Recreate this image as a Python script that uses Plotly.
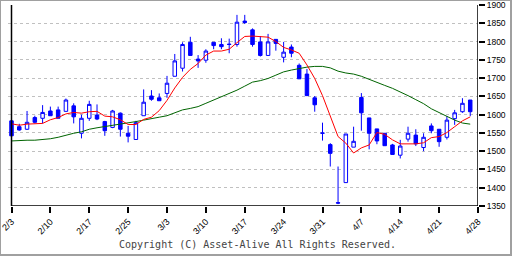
import plotly.graph_objects as go

# ---- data ----
tick_labels = ["2/3", "2/10", "2/17", "2/25", "3/3", "3/10", "3/17",
               "3/24", "3/31", "4/7", "4/14", "4/21", "4/28"]

opens = [1583, 1567, 1560, 1592, 1590, 1610, 1613, 1609, 1624, 1549,
         1590, 1599, 1581, 1565, 1604, 1549, 1532, 1597, 1651, 1646,
         1658, 1705, 1727, 1798, 1752, 1749, 1798, 1792, 1793, 1792,
         1856, 1832, 1799, 1762, 1806, 1757, 1785, 1735, 1711, 1646,
         1550, 1518, 1359, 1414, 1511, 1647, 1591, 1561, 1549, 1517,
         1489, 1533, 1544, 1510, 1569, 1560, 1538, 1589, 1608, 1640]
highs = [1585, 1575, 1610, 1597, 1626, 1622, 1622, 1644, 1631, 1600,
         1638, 1628, 1583, 1613, 1606, 1569, 1583, 1669, 1667, 1658,
         1706, 1766, 1798, 1813, 1763, 1779, 1798, 1809, 1808, 1873,
         1873, 1836, 1815, 1821, 1806, 1799, 1792, 1740, 1725, 1651,
         1578, 1522, 1458, 1547, 1567, 1659, 1591, 1561, 1549, 1520,
         1531, 1567, 1560, 1549, 1576, 1560, 1596, 1613, 1645, 1640]
lows = [1540, 1556, 1558, 1576, 1576, 1597, 1590, 1609, 1576, 1535,
        1583, 1585, 1542, 1563, 1540, 1524, 1532, 1597, 1638, 1638,
        1646, 1705, 1718, 1762, 1728, 1742, 1779, 1779, 1768, 1786,
        1848, 1786, 1759, 1762, 1775, 1743, 1757, 1698, 1652, 1608,
        1529, 1458, 1355, 1414, 1511, 1556, 1505, 1519, 1515, 1491,
        1480, 1526, 1514, 1500, 1549, 1512, 1532, 1572, 1605, 1596]
closes = [1542, 1558, 1579, 1579, 1606, 1597, 1590, 1640, 1594, 1590,
          1628, 1588, 1556, 1610, 1560, 1541, 1578, 1634, 1642, 1638,
          1686, 1747, 1792, 1762, 1747, 1774, 1789, 1786, 1792, 1853,
          1852, 1792, 1762, 1799, 1795, 1771, 1768, 1698, 1652, 1627,
          1549, 1494, 1358, 1547, 1527, 1605, 1549, 1528, 1515, 1491,
          1514, 1549, 1520, 1538, 1556, 1526, 1585, 1605, 1631, 1608]

ma_short = [1575, 1571, 1574, 1574, 1576, 1586, 1592, 1602, 1606, 1604,
            1608, 1609, 1596, 1594, 1586, 1573, 1573, 1587, 1593, 1611,
            1639, 1673, 1702, 1724, 1740, 1763, 1774, 1774, 1779, 1797,
            1814, 1815, 1813, 1812, 1800, 1784, 1777, 1768, 1736, 1699,
            1652, 1598, 1540, 1522, 1495, 1509, 1517, 1551, 1546, 1531,
            1520, 1520, 1520, 1523, 1537, 1540, 1551, 1567, 1583, 1594]
ma_long = [1528, 1530, 1530, 1530, 1531, 1534, 1538, 1544, 1549, 1553,
           1560, 1564, 1567, 1570, 1574, 1576, 1581, 1585, 1588, 1593,
           1597, 1606, 1613, 1617, 1622, 1631, 1640, 1649, 1656, 1667,
           1678, 1689, 1693, 1699, 1708, 1717, 1722, 1727, 1730, 1732,
           1732, 1728, 1719, 1714, 1711, 1705, 1696, 1689, 1680, 1672,
           1663, 1652, 1641, 1630, 1616, 1605, 1594, 1585, 1577, 1574]

y_ticks = list(range(1350, 1901, 50))

# ---- figure ----
n = len(closes)
xs = list(range(n))
tick_pos = list(range(0, 5 * len(tick_labels), 5))

W, H = 512, 256
ML, MR, MT, MB = 8, 34, 5, 50
PW, PH = W - ML - MR, H - MT - MB


def px(x):
    return (x - ML) / PW


def py(y):
    return (H - MB - y) / PH


fig = go.Figure()
fig.add_trace(go.Candlestick(
    x=xs, open=opens, high=highs, low=lows, close=closes,
    increasing=dict(line=dict(color="#0000ff", width=1), fillcolor="#ffffff"),
    decreasing=dict(line=dict(color="#0000ff", width=1), fillcolor="#0000ff"),
    whiskerwidth=0, showlegend=False, hoverinfo="skip",
))
fig.add_trace(go.Scatter(x=xs, y=ma_long, mode="lines",
                         line=dict(color="#006400", width=1), showlegend=False))
fig.add_trace(go.Scatter(x=xs, y=ma_short, mode="lines",
                         line=dict(color="#ff0000", width=1), showlegend=False))

shapes = [
    # axes lines
    dict(type="line", xref="x", yref="y", x0=0, x1=0, y0=y_ticks[0], y1=y_ticks[-1],
         line=dict(color="black", width=1.5)),
    dict(type="line", xref="x", yref="y", x0=0, x1=tick_pos[-1], y0=y_ticks[0], y1=y_ticks[0],
         line=dict(color="black", width=1.5)),
    dict(type="line", xref="x", yref="y", x0=tick_pos[-1], x1=tick_pos[-1], y0=y_ticks[0], y1=y_ticks[-1],
         line=dict(color="black", width=1.5)),
    # outer frame
    dict(type="line", xref="paper", yref="paper", x0=px(0.5), x1=px(0.5), y0=py(0), y1=py(H),
         line=dict(color="#a0a0a0", width=1)),
    dict(type="line", xref="paper", yref="paper", x0=px(0), x1=px(W), y0=py(0.5), y1=py(0.5),
         line=dict(color="#a0a0a0", width=1)),
    dict(type="line", xref="paper", yref="paper", x0=px(W - 1), x1=px(W - 1), y0=py(0), y1=py(H),
         line=dict(color="#a0a0a0", width=2)),
    dict(type="line", xref="paper", yref="paper", x0=px(0), x1=px(W), y0=py(H - 1), y1=py(H - 1),
         line=dict(color="#a0a0a0", width=2)),
]

fig.update_layout(
    width=W, height=H,
    margin=dict(l=ML, r=MR, t=MT, b=MB, autoexpand=False),
    paper_bgcolor="white", plot_bgcolor="white",
    boxgap=0.36,
    shapes=shapes,
    xaxis=dict(
        range=[-0.45, tick_pos[-1]], tickmode="array", tickvals=tick_pos, ticktext=tick_labels,
        tickangle=-45, ticks="outside", ticklen=6, tickcolor="black", tickwidth=1.5,
        showgrid=False, zeroline=False, showline=False, rangeslider=dict(visible=False),
        automargin=False, ticklabeloverflow="allow",
        tickfont=dict(family="Liberation Sans", size=9, color="black"),
    ),
    yaxis=dict(
        range=[y_ticks[0] - 0.05, y_ticks[-1] + 0.05], side="right", tickmode="array",
        tickvals=y_ticks,
        ticks="outside", ticklen=6, tickcolor="black", tickwidth=1.5,
        showgrid=True, gridcolor="#c0c0c0", griddash="3px,3px", gridwidth=1,
        zeroline=False, showline=False, automargin=False, ticklabeloverflow="allow",
        tickfont=dict(family="Liberation Sans", size=8.5, color="black"),
    ),
    annotations=[dict(
        text="Copyright (C) Asset-Alive All Rights Reserved.",
        xref="paper", yref="paper", x=px(257), y=py(245), xanchor="center", yanchor="middle",
        showarrow=False, font=dict(family="DejaVu Sans Mono", size=10, color="#444444"),
    )],
)

fig.write_html("out.html")
